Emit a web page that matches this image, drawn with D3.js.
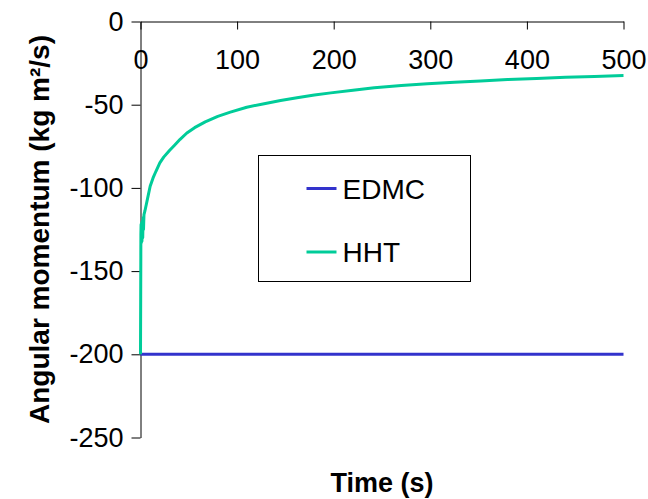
<!DOCTYPE html>
<html>
<head>
<meta charset="utf-8">
<script src="https://cdn.jsdelivr.net/npm/d3@7"></script>
<style>
  body { margin: 0; background: #fff; }
  text { font-family: Arial, "Liberation Sans", sans-serif; }
</style>
</head>
<body>
<svg id="chart" width="648" height="499"></svg>
<script>
// data
var xTicks = [0, 100, 200, 300, 400, 500];
var yTicks = [0, -50, -100, -150, -200, -250];

var edmcTime = [0, 500];
var edmcValue = [-200, -200];

var hhtTime = [0, 0.2, 0.4, 0.6, 0.9, 1.2, 1.5, 1.9, 2.3, 2.7, 3.1, 3.6, 4.5, 6, 8, 10, 13, 16, 20, 24, 30, 35, 41, 48, 56, 67, 80, 93, 110, 128, 145, 162, 180, 197, 220, 242, 270, 297, 325, 352, 380, 410, 440, 470, 500];
var hhtValue = [-200, -165, -128, -122, -133, -121, -132, -120, -130, -118, -125, -116, -114, -110, -104.5, -99, -94, -90, -85, -81.5, -77.5, -74.5, -70.8, -67, -63.8, -60.3, -57, -54.5, -51.5, -49.4, -47.5, -45.8, -44.2, -42.9, -41.3, -39.8, -38.5, -37.4, -36.5, -35.8, -34.9, -34.2, -33.5, -33, -32.5];

var series = [
  { name: "EDMC", color: "#3333cc", t: edmcTime, v: edmcValue },
  { name: "HHT", color: "#00cc99", t: hhtTime, v: hhtValue }
];

var margin = { left: 140.5, top: 21.5, right: 25, bottom: 62 },
    width = 623 - 140,
    height = 437 - 21;

var svg = d3.select("#chart");
var g = svg.append("g").attr("transform", "translate(" + margin.left + "," + margin.top + ")");

var x = d3.scaleLinear().domain([0, 500]).range([0, width]);
var y = d3.scaleLinear().domain([-250, 0]).range([height, 0]);

// y axis
var yAxis = g.append("g")
  .call(d3.axisLeft(y).tickValues(yTicks).tickSize(9).tickSizeOuter(0).tickPadding(8)
    .tickFormat(function(d) { return String(d); }));
yAxis.selectAll("text").attr("font-size", 27).attr("fill", "#000").style("font-family", "Arial, 'Liberation Sans', sans-serif");
yAxis.selectAll("line, path").attr("stroke", "#000");

// x axis sits on y = 0
var xAxis = g.append("g").attr("transform", "translate(0," + y(0) + ")")
  .call(d3.axisBottom(x).tickValues(xTicks).tickSize(8).tickSizeOuter(0).tickPadding(20)
    .tickFormat(function(d) { return String(d); }));
xAxis.selectAll("text").attr("font-size", 27).attr("fill", "#000").style("font-family", "Arial, 'Liberation Sans', sans-serif");
xAxis.selectAll("line, path").attr("stroke", "#000");

// lines
var line = d3.line()
  .x(function(d) { return x(d[0]); })
  .y(function(d) { return y(d[1]); });

g.selectAll(".series").data(series).enter().append("path")
  .attr("class", "series")
  .attr("fill", "none")
  .attr("stroke", function(d) { return d.color; })
  .attr("stroke-width", 3)
  .attr("stroke-linejoin", "round")
  .attr("d", function(d) {
    return line(d.t.map(function(t, i) { return [t, d.v[i]]; }));
  });

// legend
var legend = svg.append("g").attr("transform", "translate(258.5,155.5)");
legend.append("rect")
  .attr("width", 212).attr("height", 126)
  .attr("fill", "#fff").attr("stroke", "#000").attr("stroke-width", 1);

var items = legend.selectAll(".item").data(series).enter().append("g")
  .attr("transform", function(d, i) { return "translate(0," + (33 + i * 63.5) + ")"; });
items.append("line")
  .attr("x1", 48).attr("x2", 78)
  .attr("stroke", function(d) { return d.color; })
  .attr("stroke-width", 3);
items.append("text")
  .attr("x", 84).attr("dy", "0.36em")
  .attr("font-size", 28)
  .text(function(d) { return d.name; });

// axis titles
svg.append("text")
  .attr("transform", "translate(49," + (margin.top + height / 2) + ") rotate(-90)")
  .attr("text-anchor", "middle")
  .attr("font-size", 28).attr("font-weight", "bold")
  .text("Angular momentum (kg m²/s)");

svg.append("text")
  .attr("x", margin.left + width / 2).attr("y", 492)
  .attr("text-anchor", "middle")
  .attr("font-size", 27).attr("font-weight", "bold")
  .text("Time (s)");
</script>
</body>
</html>
